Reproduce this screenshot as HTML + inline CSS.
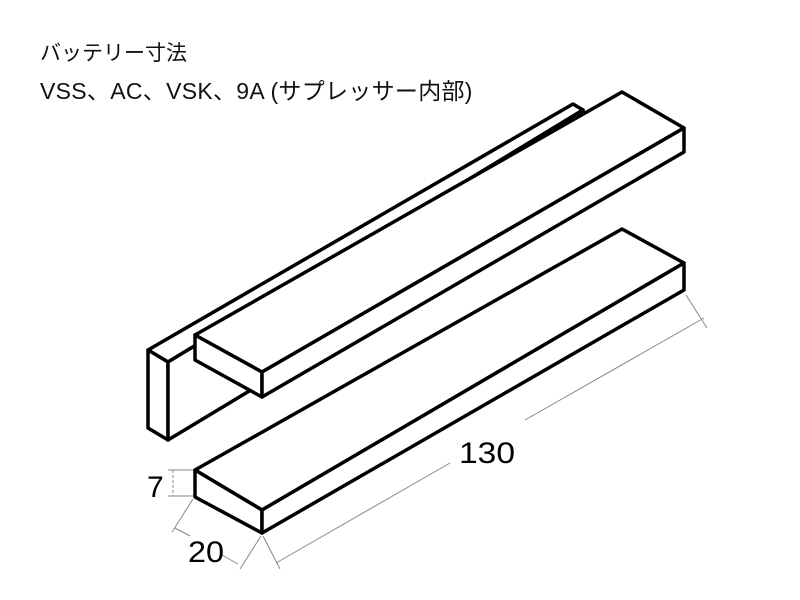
<!DOCTYPE html>
<html><head><meta charset="utf-8"><style>
body{margin:0;background:#fff;width:800px;height:600px;overflow:hidden}
.t{position:absolute;left:40px;font-family:"Liberation Sans","Noto Sans CJK JP",sans-serif;font-size:21px;color:#111;white-space:nowrap}
</style></head><body>
<div class="t" style="top:37px">バッテリー寸法</div>
<div class="t" style="top:72px;font-size:23px;letter-spacing:0.3px">VSS、AC、VSK、9A (サプレッサー内部)</div>
<svg width="800" height="600" style="position:absolute;left:0;top:0" stroke-linejoin="round">
<g stroke="#000" stroke-width="3.5" fill="#fff">
<polygon points="148,350 573,104 583,110 168,362"/>
<polygon points="148,350 168,362 168,440 148,428"/>
<polygon points="168,362 583,110 583,190 168,440"/>
<polygon points="195,335 622,92 684,128 262,372"/>
<polygon points="195,335 262,372 262,397 195,360"/>
<polygon points="262,372 684,128 684,152 262,397"/>
<polygon points="195,470 622,229 684,263 262,510"/>
<polygon points="195,470 262,510 262,533 195,497"/>
<polygon points="262,510 684,263 684,290 262,533"/>
</g>
<g stroke="#888" stroke-width="1" fill="none">
<line x1="686" y1="295" x2="707" y2="328"/>
<line x1="263" y1="536" x2="280" y2="569"/>
<line x1="276" y1="563" x2="450" y2="463"/>
<line x1="525" y1="420" x2="704" y2="318"/>
<line x1="193" y1="499" x2="172" y2="532"/>
<line x1="261" y1="536" x2="240" y2="569"/>
<line x1="175" y1="528" x2="190" y2="536"/>
<line x1="222" y1="555" x2="238" y2="564"/>
<line x1="168" y1="470" x2="193" y2="470"/>
<line x1="168" y1="496" x2="193" y2="496"/>
<line x1="173" y1="470" x2="173" y2="496" stroke-dasharray="3,2"/>
</g>
<g font-family="Liberation Sans,sans-serif" font-size="30" fill="#000">
<text x="459" y="463" textLength="56" lengthAdjust="spacingAndGlyphs">130</text>
<text x="188" y="562" textLength="36" lengthAdjust="spacingAndGlyphs">20</text>
<text x="147" y="497">7</text>
</g>
</svg>
</body></html>
